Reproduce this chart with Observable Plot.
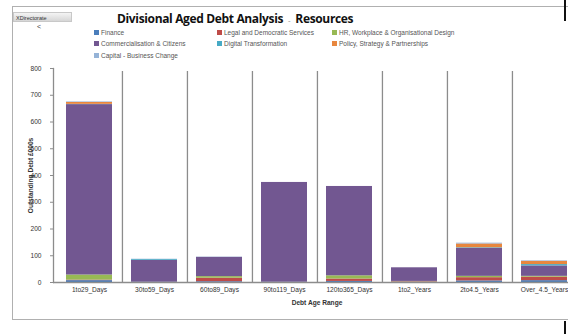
<!DOCTYPE html>
<html>
<head>
<meta charset="utf-8">
<script src="https://cdn.jsdelivr.net/npm/d3@7"></script>
<script src="https://cdn.jsdelivr.net/npm/@observablehq/plot@0.6"></script>
<style>
  html, body { margin: 0; padding: 0; background: #fff; overflow: hidden; }
  #wrap { position: relative; width: 568px; height: 334px; overflow: hidden; font-family: "Liberation Sans", "DejaVu Sans", sans-serif; }
  #box { position: absolute; left: 12px; top: 6px; width: 600px; height: 312px; border: 1.5px solid #b0b0b0; border-right: none; }
  #btn { position: absolute; left: 13px; top: 12px; width: 59px; height: 10px; border: 1px solid #c8c8c8;
         background: linear-gradient(#f4f4f4, #d6d6d6); font-size: 5.5px; line-height: 10px; color: #333; padding-left: 2px; box-sizing: border-box; }
  #lt { position: absolute; left: 37px; top: 23px; font-size: 7px; color: #444; }
  #title { position: absolute; left: 117px; top: 10px; font-family: "Open Sans", sans-serif; font-weight: bold; font-size: 12px; color: #111; white-space: nowrap; letter-spacing: -0.35px; }
  #title .dash { font-weight: normal; color: #888; font-size: 8px; margin: 0 5px; }
  .leg { position: absolute; font-size: 6.5px; color: #555; white-space: nowrap; display: flex; align-items: center; }
  .leg i { display: inline-block; width: 5px; height: 5px; margin-right: 2px; }
  #plot { position: absolute; left: 0; top: 60px; }
  #plot svg { max-width: none !important; }
  g[aria-label="y-axis label"] text, g[aria-label="x-axis label"] text { font-weight: bold; }
  #blk1 { position: absolute; left: 564px; top: 0; width: 2px; height: 21px; background: #111; }
  #blk2 { position: absolute; left: 564px; top: 321px; width: 2px; height: 13px; background: #111; }
</style>
</head>
<body>
<div id="wrap">
  <div id="box"></div>
  <div id="btn">XDirectorate</div>
  <div id="lt">&lt;</div>
  <div id="title">Divisional Aged Debt Analysis<span class="dash">-</span>Resources</div>
  <div id="legend"></div>
  <div id="plot"></div>
  <div id="blk1"></div>
  <div id="blk2"></div>
</div>
<script>
const categories = ["1to29_Days","30to59_Days","60to89_Days","90to119_Days","120to365_Days","1to2_Years","2to4.5_Years","Over_4.5_Years"];
const seriesNames = ["Finance","Legal and Democratic Services","HR, Workplace & Organisational Design","Commercialisation & Citizens","Digital Transformation","Policy, Strategy & Partnerships","Capital - Business Change"];
const seriesColors = ["#4a7ebb","#be4b48","#98b954","#725791","#46aac5","#e8873e","#95b3d7"];
const finance   = [7, 1, 3, 1, 4, 1, 6, 7];
const legal     = [2, 0, 13, 0, 9, 2, 12, 13];
const hr        = [19, 0, 6, 0, 12, 1, 5, 3];
const commerce  = [637, 82, 72, 373, 334, 51, 105, 39];
const digital   = [1, 3, 0, 0, 0, 0, 2, 5];
const policy    = [7, 0, 0, 0, 0, 0, 14, 12];
const capital   = [2, 1, 1, 0, 0, 0, 3, 2];
const yTicks = [0, 100, 200, 300, 400, 500, 600, 700, 800];

const seriesValues = [finance, legal, hr, commerce, digital, policy, capital];
const data = [];
categories.forEach((c, i) => {
  seriesNames.forEach((s, j) => data.push({cat: c, series: s, value: seriesValues[j][i]}));
});

// legend
const legPos = [[94,28.5],[217,28.5],[332,28.5],[94,40],[217,40],[332,40],[94,51.5]];
const legend = document.getElementById("legend");
seriesNames.forEach((s, j) => {
  const d = document.createElement("div");
  d.className = "leg";
  d.style.left = legPos[j][0] + "px";
  d.style.top = legPos[j][1] + "px";
  d.innerHTML = `<i style="background:${seriesColors[j]}"></i>${s.replace(/&/g,"&amp;")}`;
  legend.appendChild(d);
});

const W = 580, ML = 53, MR = 0;
const step = (W - ML - MR) / categories.length;

const chart = Plot.plot({
  width: W, height: 252,
  marginLeft: ML, marginRight: MR, marginTop: 8, marginBottom: 30,
  style: {fontFamily: "Liberation Sans, DejaVu Sans, sans-serif", fontSize: "6.6px", color: "#333", background: "transparent", maxWidth: "none"},
  x: {domain: categories, paddingInner: 0.3, paddingOuter: 0.15},
  y: {domain: [0, 800]},
  color: {domain: seriesNames, range: seriesColors},
  marks: [
    Plot.barY(data, {x: "cat", y: "value", fill: "series", order: seriesNames}),
    Plot.ruleX(categories, {x: d => d, dx: step / 2, y1: 0, y2: 800, insetBottom: -3, stroke: "#8c8c8c", strokeWidth: 1.3}),
    Plot.ruleY([0], {stroke: "#8c8c8c", strokeWidth: 1.3}),
    Plot.axisY({ticks: yTicks, tickSize: 3, tickPadding: 9, stroke: "#8c8c8c", label: "Outstanding Debt £000s", labelAnchor: "center", labelArrow: "none", labelOffset: 25}),
    Plot.frame({anchor: "left", stroke: "#8c8c8c", strokeWidth: 1.3}),
    Plot.axisX({tickSize: 0, tickPadding: 5, label: "Debt Age Range", labelAnchor: "center", labelArrow: "none", labelOffset: 22})
  ]
});
document.getElementById("plot").appendChild(chart);
</script>
</body>
</html>
